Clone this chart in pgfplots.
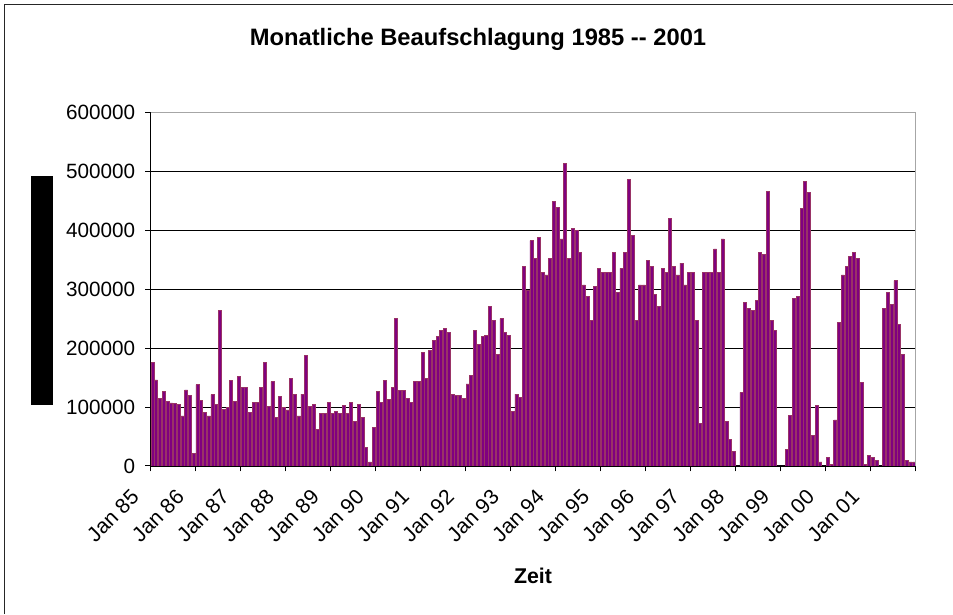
\documentclass[border=0pt]{standalone}
\usepackage{fontspec}
\setmainfont{Liberation Sans}
\usepackage{pgfplots}
\pgfplotsset{compat=1.18}
\usepackage{pgfplotstable}
\definecolor{barfill}{HTML}{800080}
\definecolor{baredge}{HTML}{993366}

% monthly values in thousands, Jan 1985 .. Dec 2001, one row per year
\pgfplotstableread[row sep=\\]{
v\\
176\\146\\115\\126\\109\\107\\106\\105\\85\\129\\119\\21\\
138\\111\\91\\85\\121\\105\\264\\96\\99\\145\\110\\152\\
133\\133\\91\\108\\108\\133\\175\\101\\143\\82\\118\\99\\
95\\149\\122\\85\\122\\187\\101\\105\\62\\89\\89\\108\\
89\\92\\89\\103\\89\\108\\75\\105\\82\\31\\7\\65\\
126\\108\\145\\113\\133\\250\\128\\128\\115\\108\\143\\143\\
193\\149\\196\\213\\220\\230\\233\\226\\122\\119\\119\\115\\
139\\153\\230\\206\\220\\222\\270\\247\\189\\250\\226\\222\\
93\\122\\116\\338\\297\\382\\352\\388\\328\\324\\352\\449\\
438\\385\\513\\352\\402\\399\\362\\307\\287\\247\\304\\335\\
328\\328\\328\\362\\294\\335\\362\\486\\391\\247\\307\\307\\
348\\338\\291\\270\\335\\328\\419\\338\\324\\344\\307\\328\\
328\\247\\72\\328\\328\\328\\368\\328\\385\\75\\45\\25\\
0\\125\\277\\267\\264\\281\\362\\358\\466\\247\\230\\0\\
0\\28\\86\\284\\287\\436\\483\\463\\52\\102\\7\\0\\
14\\3\\78\\243\\324\\338\\355\\362\\352\\142\\3\\18\\
14\\10\\0\\267\\294\\274\\314\\240\\189\\10\\7\\7\\
}\monthly

\begin{document}
\begin{tikzpicture}
\useasboundingbox (0,0) rectangle (714.75pt,460.5pt);
% chart frame (only top and left edge visible)
\draw[line width=0.75pt, black!85] (3.4pt,0) -- (3.4pt,457.1pt) -- (714.75pt,457.1pt);
% covered axis title
\fill[black] (23.25pt,156.75pt) rectangle (39.75pt,328.5pt);
\node[anchor=base, font=\bfseries\fontsize{17.8}{21}\selectfont] at (358.5pt,426.2pt)
  {Monatliche Beaufschlagung 1985 -{}- 2001};
\node[anchor=base, font=\bfseries\fontsize{16}{19}\selectfont] at (399.75pt,23.25pt) {Zeit};

\begin{axis}[
  at={(112.875pt,111pt)}, anchor=south west,
  scale only axis, width=574.1pt, height=265.5pt,
  xmin=0, xmax=204, ymin=0, ymax=600,
  axis x line*=bottom, axis y line*=left,
  axis line style={black, line width=0.75pt},
  xtick={0,12,...,204},
  xticklabels={Jan 85,Jan 86,Jan 87,Jan 88,Jan 89,Jan 90,Jan 91,Jan 92,Jan 93,Jan 94,Jan 95,Jan 96,Jan 97,Jan 98,Jan 99,Jan 00,Jan 01,{}},
  ytick={0,100,...,600},
  yticklabels={0,100000,200000,300000,400000,500000,600000},
  tick align=outside, major tick length=4pt,
  tick style={black, line width=0.75pt},
  ymajorgrids, grid style={black, line width=0.6pt},
  yticklabel style={font=\fontsize{15.5}{18}\selectfont, xshift=-4pt},
  xticklabel style={font=\fontsize{15.8}{18}\selectfont, xshift=-9pt, yshift=-14pt, rotate=45, anchor=east},
  /pgf/number format/assume math mode=true,
]
\addplot[ybar, bar width=0.8, fill=barfill, draw=baredge, line width=0.5pt]
  table[x expr=\coordindex+0.5, y=v] {\monthly};
\draw[gray!70, line width=0.75pt] (rel axis cs:0,1) -- (rel axis cs:1,1) -- (rel axis cs:1,0);
\end{axis}
\end{tikzpicture}
\end{document}
